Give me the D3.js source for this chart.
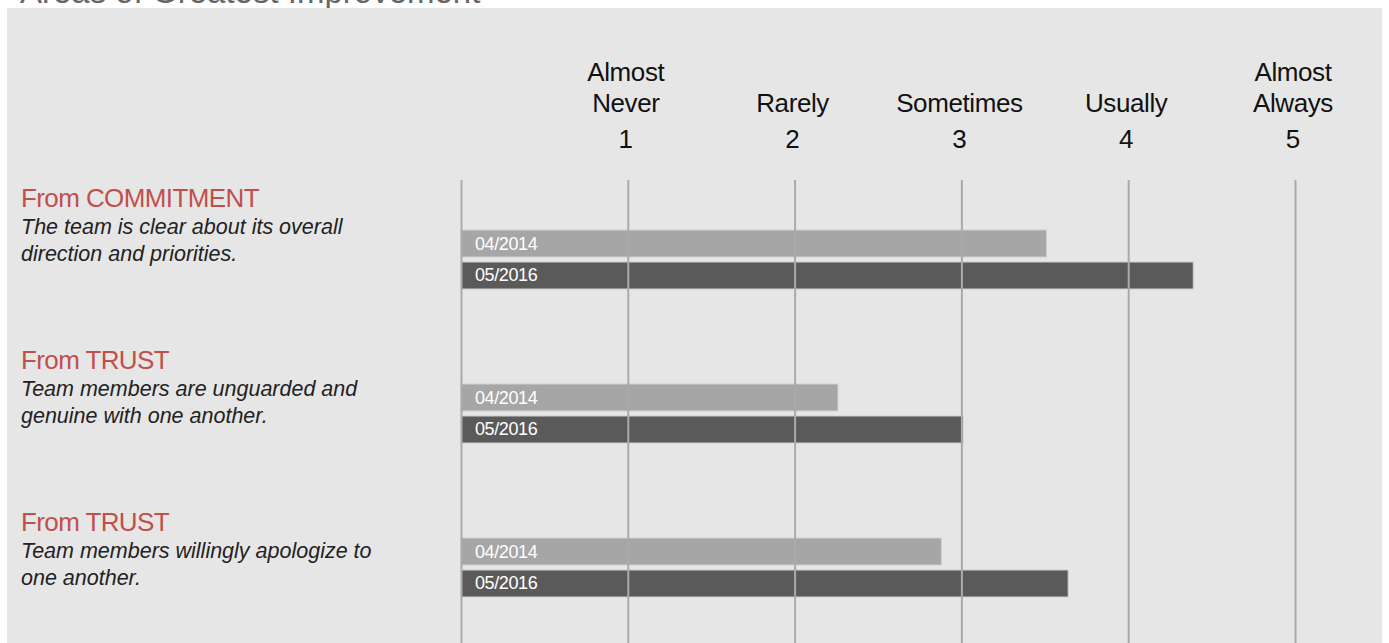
<!DOCTYPE html>
<html>
<head>
<meta charset="utf-8">
<script src="https://cdn.jsdelivr.net/npm/d3@7"></script>
<style>
  body { margin: 0; background: #fff; }
  svg { display: block; font-family: "Liberation Sans", Arial, Helvetica, sans-serif; }
</style>
</head>
<body>
<svg width="1389" height="643"></svg>
<script>
// chart data
const groups = ['From COMMITMENT', 'From TRUST', 'From TRUST'];
const descriptions = [
  ['The team is clear about its overall', 'direction and priorities.'],
  ['Team members are unguarded and', 'genuine with one another.'],
  ['Team members willingly apologize to', 'one another.']
];
const seriesNames = ['04/2014', '05/2016'];
const values2014 = [3.51, 2.26, 2.88];
const values2016 = [4.39, 3.01, 3.64];
const tickValues = [1, 2, 3, 4, 5];
const tickLabels = [['Almost', 'Never'], ['Rarely'], ['Sometimes'], ['Usually'], ['Almost', 'Always']];

const svg = d3.select('svg');
const width = +svg.attr('width');
const height = +svg.attr('height');

const colors = ['#a6a6a6', '#5a5a5a'];

// title, mostly scrolled off the top
svg.append('text')
  .attr('x', 20).attr('y', 3)
  .attr('font-size', 33)
  .attr('fill', '#666')
  .text('Areas of Greatest Improvement');

svg.append('rect')
  .attr('x', 7).attr('y', 8)
  .attr('width', 1375).attr('height', height)
  .attr('fill', '#e6e6e6');

const xScale = d3.scaleLinear()
  .domain([0, 5])
  .range([461, 1295]);

const yScale = d3.scaleBand()
  .domain(d3.range(groups.length))
  .range([218, 680]);

const inner = d3.scaleBand()
  .domain(seriesNames)
  .range([12, 71])
  .paddingInner(0.156);

// label rows sit on their own spacing
const labelY = d3.scaleBand()
  .domain(d3.range(groups.length))
  .range([207, 693]);

// header labels above gridlines
const heads = svg.append('g');
tickValues.forEach((v, i) => {
  const lines = tickLabels[i];
  const g = heads.append('g').attr('transform', `translate(${xScale(v) - 2},0)`);
  lines.forEach((l, j) => {
    g.append('text')
      .attr('text-anchor', 'middle')
      .attr('y', 112 - (lines.length - 1 - j) * 31)
      .attr('font-size', 26)
      .attr('letter-spacing', -0.4)
      .attr('fill', '#111')
      .text(l);
  });
  g.append('text')
    .attr('text-anchor', 'middle')
    .attr('y', 148)
    .attr('font-size', 26)
    .attr('fill', '#111')
    .text(v);
});

// bars
const data = groups.map((name, i) => ({ i, vals: [values2014[i], values2016[i]] }));

const rows = svg.append('g').selectAll('g').data(data)
  .enter().append('g')
  .attr('transform', d => `translate(0,${yScale(d.i)})`);

rows.selectAll('rect').data(d => d.vals.map((v, k) => ({ v, k })))
  .enter().append('rect')
  .attr('x', xScale(0))
  .attr('y', d => inner(seriesNames[d.k]))
  .attr('width', d => xScale(d.v) - xScale(0))
  .attr('height', inner.bandwidth())
  .attr('fill', d => colors[d.k])
  .attr('stroke', '#d0d0d0')
  .attr('stroke-width', 1);

rows.selectAll('text.val').data(d => d.vals.map((v, k) => ({ v, k })))
  .enter().append('text')
  .attr('class', 'val')
  .attr('x', xScale(0) + 14)
  .attr('y', d => inner(seriesNames[d.k]) + inner.bandwidth() / 2 + 6)
  .attr('font-size', 18)
  .attr('letter-spacing', -0.4)
  .attr('fill', '#fff')
  .text(d => seriesNames[d.k]);

// gridlines drawn over the bars
const xAxis = d3.axisBottom(xScale)
  .tickValues(d3.range(0, 6))
  .tickSize(height - 180)
  .tickFormat('');
const ga = svg.append('g').attr('transform', 'translate(0,180)');
xAxis(ga);
ga.select('.domain').remove();
ga.selectAll('line').attr('stroke', '#aaa').attr('stroke-width', 2);

// left labels
const labels = svg.append('g').selectAll('g').data(data)
  .enter().append('g')
  .attr('transform', d => `translate(21,${labelY(d.i)})`);

labels.append('text')
  .attr('font-size', 26)
  .attr('letter-spacing', -0.6)
  .attr('fill', '#c0504d')
  .text(d => groups[d.i]);

labels.each(function (d) {
  descriptions[d.i].forEach((line, j) => {
    d3.select(this).append('text')
      .attr('y', 27 + j * 27)
      .attr('font-size', 21.5)
      .attr('font-style', 'italic')
      .attr('fill', '#222')
      .text(line);
  });
});
</script>
</body>
</html>
